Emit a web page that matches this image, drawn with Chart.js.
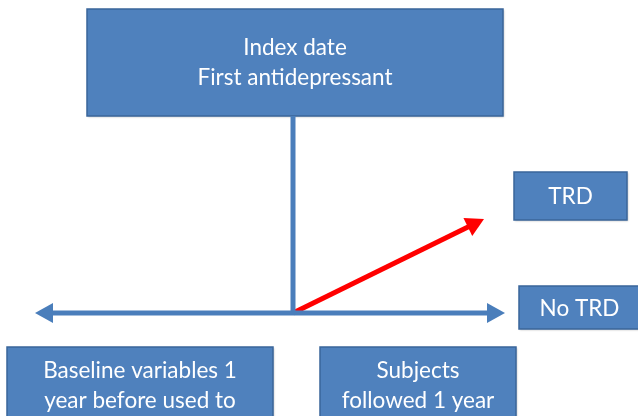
<!DOCTYPE html>
<html><head><meta charset="utf-8">
<script src="https://cdn.jsdelivr.net/npm/chart.js@4"></script>
<style>html,body{margin:0;padding:0;background:#fff;}#wrap{width:638px;height:416px;}</style>
</head><body><div id="wrap"><canvas id="c" width="638" height="416"></canvas></div>
<script>
// Diagram content (coordinates are in the 638x416 diagram space)
const boxLabels = [
  ["Index date", "First antidepressant"],
  ["TRD"],
  ["No TRD"],
  ["Baseline variables 1", "year before used to"],
  ["Subjects", "followed 1 year"]
];
const boxLeft   = [87, 514, 519, 7, 320];
const boxRight  = [503, 627, 640, 273, 516];
const boxTop    = [9, 172, 286, 347, 347];
const boxBottom = [116, 220, 329, 420, 420];
const textLineY = [[48, 78], [197], [309], [371, 401], [371, 401]];

// Connector lines
const stemLine   = [{x: 293, y: 116}, {x: 293, y: 313}];
const timeLine   = [{x: 50, y: 313}, {x: 490, y: 313}];
const trdArrow   = [{x: 293, y: 313}, {x: 470, y: 226}];
// Arrow heads: tip point and the point the head points away from
const arrowTips  = [{x: 35, y: 313}, {x: 505, y: 313}, {x: 484, y: 219}];
const arrowFrom  = [{x: 293, y: 313}, {x: 293, y: 313}, {x: 293, y: 313}];
const arrowColor = ['#4a7ebb', '#4a7ebb', '#ff0000'];

const BLUE = '#4f81bd';
const plugin = {
  id: 'diagram',
  beforeDatasetsDraw(chart) {
    const {ctx, scales: {x, y}} = chart;
    ctx.save();
    for (let i = 0; i < boxLabels.length; i++) {
      const l = x.getPixelForValue(boxLeft[i]), r = x.getPixelForValue(boxRight[i]);
      const t = y.getPixelForValue(boxTop[i]), b = y.getPixelForValue(boxBottom[i]);
      ctx.shadowColor = 'rgba(0,0,0,0.25)';
      ctx.shadowBlur = 2; ctx.shadowOffsetX = 1; ctx.shadowOffsetY = 1;
      ctx.fillStyle = BLUE;
      ctx.fillRect(l, t, r - l, b - t);
      ctx.shadowColor = 'transparent';
      ctx.strokeStyle = '#3a669a';
      ctx.lineWidth = 1.5;
      ctx.strokeRect(l, t, r - l, b - t);
      ctx.fillStyle = '#ffffff';
      ctx.font = '22.5px Lato, "Open Sans", sans-serif';
      ctx.textAlign = 'center';
      ctx.textBaseline = 'middle';
      boxLabels[i].forEach((s, k) => {
        ctx.fillText(s, (l + r) / 2, y.getPixelForValue(textLineY[i][k]));
      });
    }
    ctx.restore();
  },
  afterDatasetsDraw(chart) {
    const {ctx, scales: {x, y}} = chart;
    ctx.save();
    for (let i = 0; i < arrowTips.length; i++) {
      const tx = x.getPixelForValue(arrowTips[i].x), ty = y.getPixelForValue(arrowTips[i].y);
      const fx = x.getPixelForValue(arrowFrom[i].x), fy = y.getPixelForValue(arrowFrom[i].y);
      const a = Math.atan2(ty - fy, tx - fx);
      const len = 18, half = 10;
      const bx = tx - len * Math.cos(a), by = ty - len * Math.sin(a);
      ctx.fillStyle = arrowColor[i];
      ctx.beginPath();
      ctx.moveTo(tx, ty);
      ctx.lineTo(bx + half * Math.sin(a), by - half * Math.cos(a));
      ctx.lineTo(bx - half * Math.sin(a), by + half * Math.cos(a));
      ctx.closePath();
      ctx.fill();
    }
    ctx.restore();
  }
};

const lineDs = (data, color) => ({
  data, borderColor: color, borderWidth: 5, pointRadius: 0, showLine: true,
  fill: false, tension: 0, borderCapStyle: 'butt'
});

new Chart(document.getElementById('c'), {
  type: 'scatter',
  data: {
    datasets: [
      lineDs(stemLine, '#4a7ebb'),
      lineDs(timeLine, '#4a7ebb'),
      lineDs(trdArrow, '#ff0000')
    ]
  },
  options: {
    responsive: false,
    animation: false,
    layout: {padding: 0},
    plugins: {legend: {display: false}, tooltip: {enabled: false}},
    scales: {
      x: {type: 'linear', min: 0, max: 638, display: false},
      y: {type: 'linear', min: 0, max: 416, reverse: true, display: false}
    }
  },
  plugins: [plugin]
});
</script></body></html>
